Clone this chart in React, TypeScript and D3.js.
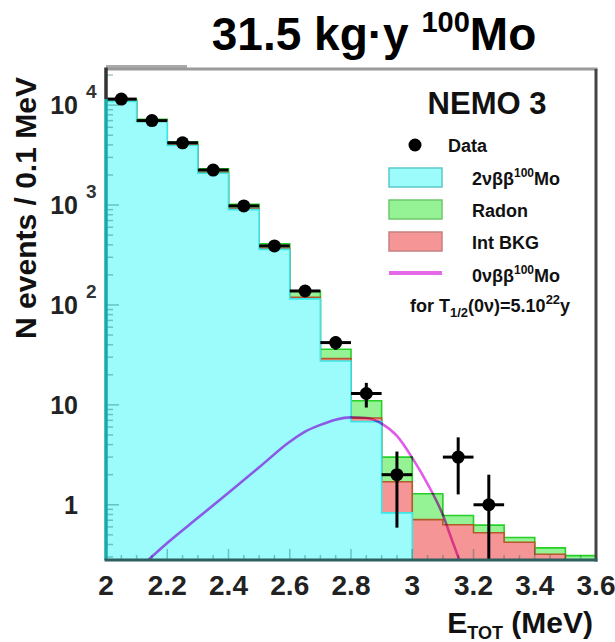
import React, { useEffect, useRef } from 'react';
import * as d3 from 'd3';

// histogram bins: low edge in MeV, 0.1 MeV wide
const binLow = [2.0, 2.1, 2.2, 2.3, 2.4, 2.5, 2.6, 2.7, 2.8, 2.9, 3.0, 3.1, 3.2, 3.3, 3.4, 3.5];
const twoNu = [10900, 6850, 3950, 2080, 900, 360, 115, 27.5, 6.8, 0.83, 0.1, 0.02, 0.005, 0.001, 0, 0];
const intBkg = [100, 80, 60, 40, 20, 10, 4, 1.5, 0.6, 0.87, 0.61, 0.61, 0.52, 0.42, 0.32, 0.2];
const radon = [500, 270, 290, 180, 100, 40, 19, 7, 3.6, 1.3, 0.58, 0.15, 0.1, 0.05, 0.05, 0.11];

// data points
const dataE = [2.05, 2.15, 2.25, 2.35, 2.45, 2.55, 2.65, 2.75, 2.85, 2.95, 3.15, 3.25];
const dataN = [11500, 7000, 4200, 2240, 980, 390, 138, 42, 13, 2, 3, 1];
const dataErr = [107, 84, 65, 47, 31, 20, 12, 6.5, 3.6, 1.41, 1.73, 1.0];

// 0vbb signal curve
const zeroNuE = [2.12, 2.2, 2.3, 2.4, 2.5, 2.6, 2.65, 2.7, 2.75, 2.8, 2.85, 2.9, 2.95, 3.0, 3.05, 3.1, 3.13, 3.16];
const zeroNuV = [0.25, 0.415, 0.74, 1.32, 2.37, 4.27, 5.4, 6.3, 7.1, 7.5, 7.4, 6.5, 4.9, 2.95, 1.62, 0.79, 0.44, 0.25];

const xTicks = [2, 2.2, 2.4, 2.6, 2.8, 3, 3.2, 3.4, 3.6];
const yTicks = [1, 10, 100, 1000, 10000];
const yTickBase = ['1', '10', '10', '10', '10'];
const yTickExp = ['', '', '2', '3', '4'];

const FONT = "'Liberation Sans', Arial, Helvetica, sans-serif";

const App: React.FC = () => {
  const ref = useRef<SVGSVGElement>(null);

  useEffect(() => {
    const svg = d3.select(ref.current);
    svg.selectAll('*').remove();

    const L = 106, R = 596, T = 69, B = 560;
    const x = d3.scaleLinear().domain([2, 3.6]).range([L, R]);
    const y = d3.scaleLog().domain([0.28, 23000]).range([B, T]);
    const yv = (v: number) => (v > 0 ? Math.min(B + 6, y(v)) : B + 6);

    svg.append('rect').attr('width', 615).attr('height', 642).attr('fill', '#fff');

    svg.append('defs').append('clipPath').attr('id', 'plotclip')
      .append('rect').attr('x', L).attr('y', T).attr('width', R - L).attr('height', B - T);

    const plot = svg.append('g').attr('clip-path', 'url(#plotclip)');

    // stacked histograms
    const s1 = twoNu;
    const s2 = twoNu.map((v, i) => v + intBkg[i]);
    const s3 = s2.map((v, i) => v + radon[i]);
    const stepPts = (s: number[]) => [...binLow.map((e, i) => [e, s[i]] as [number, number]), [3.6, s[s.length - 1]] as [number, number]];
    const area = d3.area<[number, number]>()
      .x(d => x(d[0]))
      .y0(B + 6)
      .y1(d => yv(d[1]))
      .curve(d3.curveStepAfter);

    const layers = [
      { s: s3, fill: '#95f295', stroke: '#27d027' },
      { s: s2, fill: '#f69595', stroke: '#b35a2a' },
      { s: s1, fill: '#9cfcfc', stroke: '#3ae6e6' },
    ];
    layers.forEach(l => {
      plot.append('path')
        .attr('d', area(stepPts(l.s)))
        .attr('fill', l.fill)
        .attr('stroke', l.stroke)
        .attr('stroke-width', 1.6);
    });

    // ticks inside the frame
    const tickCol = 'rgba(0,90,90,0.35)';
    d3.range(2, 3.6001, 0.05).forEach(v => {
      const major = Math.abs(v * 5 - Math.round(v * 5)) < 1e-6;
      plot.append('line')
        .attr('x1', x(v)).attr('x2', x(v))
        .attr('y1', B).attr('y2', B - (major ? 11 : 5))
        .attr('stroke', tickCol).attr('stroke-width', 1.5);
    });
    [0.3, 0.4, 0.5, 0.6, 0.7, 0.8, 0.9].concat(
      ...[1, 10, 100, 1000, 10000].map(d => d3.range(1, 10).map(k => k * d))
    ).filter(v => v < 23000).forEach(v => {
      const major = yTicks.includes(v);
      plot.append('line')
        .attr('x1', L).attr('x2', L + (major ? 13 : 7))
        .attr('y1', y(v)).attr('y2', y(v))
        .attr('stroke', tickCol).attr('stroke-width', 1.5);
    });

    // 0vbb curve
    const line = d3.line<number>()
      .x((_, i) => x(zeroNuE[i]))
      .y((d) => y(d))
      .curve(d3.curveMonotoneX);
    plot.append('path')
      .attr('d', line(zeroNuV))
      .attr('fill', 'none')
      .attr('stroke', '#e25ae8')
      .attr('stroke-width', 2.6)
      .style('mix-blend-mode', 'multiply');

    // data with error bars
    const hw = 0.05;
    dataE.forEach((e, i) => {
      const n = dataN[i], er = dataErr[i];
      plot.append('line')
        .attr('x1', x(e - hw)).attr('x2', x(e + hw))
        .attr('y1', y(n)).attr('y2', y(n))
        .attr('stroke', '#000').attr('stroke-width', 3);
      plot.append('line')
        .attr('x1', x(e)).attr('x2', x(e))
        .attr('y1', y(n + er)).attr('y2', yv(n - er))
        .attr('stroke', '#000').attr('stroke-width', 3);
      plot.append('circle')
        .attr('cx', x(e)).attr('cy', y(n)).attr('r', 6.5)
        .attr('fill', '#000');
    });

    // frame
    svg.append('line').attr('x1', L).attr('x2', 187).attr('y1', T - 2.5).attr('y2', T - 2.5)
      .attr('stroke', '#aaa').attr('stroke-width', 3);
    svg.append('line').attr('x1', L).attr('x2', R + 1.5).attr('y1', T).attr('y2', T)
      .attr('stroke', '#9a9a9a').attr('stroke-width', 3);
    svg.append('line').attr('x1', R).attr('x2', R).attr('y1', T).attr('y2', B + 1.5)
      .attr('stroke', '#444').attr('stroke-width', 3);
    svg.append('line').attr('x1', L).attr('x2', L).attr('y1', T - 1.5).attr('y2', y(s3[0]))
      .attr('stroke', '#333').attr('stroke-width', 3.5);
    svg.append('line').attr('x1', L).attr('x2', L).attr('y1', y(s3[0])).attr('y2', B)
      .attr('stroke', '#1aa8a8').attr('stroke-width', 3.5);
    svg.append('line').attr('x1', L - 1.5).attr('x2', R + 1.5).attr('y1', B).attr('y2', B)
      .attr('stroke', '#2e5f5f').attr('stroke-width', 3);

    // x tick labels
    svg.append('g').selectAll('text')
      .data(xTicks)
      .enter().append('text')
      .attr('x', d => x(d))
      .attr('y', 595)
      .attr('text-anchor', 'middle')
      .attr('font-family', FONT)
      .attr('font-weight', 'bold')
      .attr('font-size', 28)
      .attr('fill', '#222')
      .text(d => String(d));

    // y tick labels
    yTicks.forEach((v, i) => {
      svg.append('text')
        .attr('x', 78).attr('y', y(v) + 9)
        .attr('text-anchor', 'end')
        .attr('font-family', FONT).attr('font-weight', 'bold').attr('font-size', 25)
        .attr('fill', '#222')
        .text(yTickBase[i]);
      if (yTickExp[i]) {
        svg.append('text')
          .attr('x', 86).attr('y', y(v) - 7)
          .attr('font-family', FONT).attr('font-weight', 'bold').attr('font-size', 19)
          .attr('fill', '#333')
          .text(yTickExp[i]);
      }
    });

    // axis titles
    svg.append('text')
      .attr('transform', 'translate(36,208) rotate(-90)')
      .attr('text-anchor', 'middle')
      .attr('font-family', FONT).attr('font-weight', 'bold').attr('font-size', 30)
      .attr('fill', '#111')
      .text('N events / 0.1 MeV');

    const xl = svg.append('text')
      .attr('x', 593).attr('y', 633)
      .attr('text-anchor', 'end')
      .attr('font-family', FONT).attr('font-weight', 'bold').attr('font-size', 30)
      .attr('fill', '#111');
    xl.append('tspan').text('E');
    xl.append('tspan').attr('font-size', 18).attr('dy', 6).text('TOT');
    xl.append('tspan').attr('dy', -6).text(' (MeV)');

    // title
    const title = svg.append('text')
      .attr('x', 374).attr('y', 50)
      .attr('text-anchor', 'middle')
      .attr('font-family', FONT).attr('font-weight', 'bold').attr('font-size', 46)
      .attr('fill', '#000');
    title.append('tspan').text('31.5 kg·y ');
    title.append('tspan').attr('font-size', 29).attr('dy', -18).text('100');
    title.append('tspan').attr('dy', 18).text('Mo');

    // legend
    const lg = svg.append('g').attr('font-family', FONT).attr('fill', '#111');
    lg.append('text').attr('x', 487).attr('y', 114).attr('text-anchor', 'middle')
      .attr('font-weight', 'bold').attr('font-size', 31).text('NEMO 3');

    lg.append('circle').attr('cx', 415).attr('cy', 145).attr('r', 6.5).attr('fill', '#000');
    lg.append('text').attr('x', 448).attr('y', 152).attr('font-weight', 'bold').attr('font-size', 18).text('Data');

    const boxes = [
      { y0: 168, fill: '#9cfcfc', stroke: '#5cc8c8' },
      { y0: 200, fill: '#95f295', stroke: '#6cc86c' },
      { y0: 232, fill: '#f69595', stroke: '#c88080' },
    ];
    boxes.forEach(b => {
      lg.append('rect').attr('x', 389).attr('y', b.y0).attr('width', 53).attr('height', 19)
        .attr('fill', b.fill).attr('stroke', b.stroke).attr('stroke-width', 1.5);
    });

    const t1 = lg.append('text').attr('x', 472).attr('y', 185).attr('font-weight', 'bold').attr('font-size', 18);
    t1.append('tspan').text('2νββ');
    t1.append('tspan').attr('font-size', 12).attr('dy', -8).text('100');
    t1.append('tspan').attr('dy', 8).text('Mo');

    lg.append('text').attr('x', 472).attr('y', 217).attr('font-weight', 'bold').attr('font-size', 18).text('Radon');
    lg.append('text').attr('x', 472).attr('y', 249).attr('font-weight', 'bold').attr('font-size', 18).text('Int BKG');

    lg.append('line').attr('x1', 389).attr('x2', 442).attr('y1', 273).attr('y2', 273)
      .attr('stroke', '#e468e8').attr('stroke-width', 4);
    const t2 = lg.append('text').attr('x', 472).attr('y', 282).attr('font-weight', 'bold').attr('font-size', 18);
    t2.append('tspan').text('0νββ');
    t2.append('tspan').attr('font-size', 12).attr('dy', -8).text('100');
    t2.append('tspan').attr('dy', 8).text('Mo');

    const t3 = lg.append('text').attr('x', 410).attr('y', 312).attr('font-weight', 'bold').attr('font-size', 18);
    t3.append('tspan').text('for T');
    t3.append('tspan').attr('font-size', 13).attr('dy', 5).text('1/2');
    t3.append('tspan').attr('dy', -5).text('(0ν)=5.10');
    t3.append('tspan').attr('font-size', 13).attr('dy', -8).text('22');
    t3.append('tspan').attr('dy', 8).text('y');
  }, []);

  return (
    <svg
      ref={ref}
      width={615}
      height={642}
      style={{ position: 'absolute', left: 0, top: 0 }}
    />
  );
};

export default App;
